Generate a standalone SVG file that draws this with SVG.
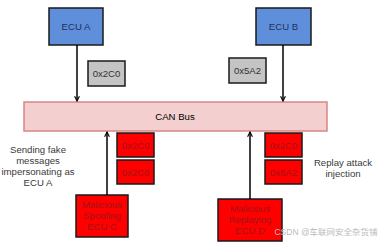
<svg xmlns="http://www.w3.org/2000/svg" width="381" height="248" viewBox="0 0 381 248">
<style>
text{font-family:"Liberation Sans",Arial,sans-serif;font-size:9.6px;text-anchor:middle}
.ecu{fill:#5F8FDB;stroke:#1a1a1a;stroke-width:1.5}
.ecut{fill:#1F2F5A}
.id{fill:#C4C4C4;stroke:#1a1a1a;stroke-width:1.5}
.idt{fill:#333}
.red{fill:#FF0000;stroke:#1a1a1a;stroke-width:1.5}
.redt{fill:#A01515}
.bus{fill:#F3CFCF;stroke:#D98585;stroke-width:1.5}
.conn{stroke:#000;stroke-width:1.5;fill:none}
.note{fill:#3a3a3a}
</style>
<defs>
<marker id="ah" viewBox="0 0 10 10" refX="9" refY="5" markerWidth="6" markerHeight="6" orient="auto" markerUnits="userSpaceOnUse">
<polyline points="1,1 9,5 1,9" fill="none" stroke="#000" stroke-width="1.8"/>
</marker>
</defs>
<g id="can-bus">
<rect class="bus" x="24" y="102" width="303" height="29"/>
<text x="175" y="119.5">CAN Bus</text>
</g>
<g id="ecu-a">
<rect class="ecu" x="49" y="8" width="54" height="37"/>
<text class="ecut" x="76" y="29.5">ECU A</text>
</g>
<g id="ecu-b">
<rect class="ecu" x="256" y="8" width="55" height="37"/>
<text class="ecut" x="283.5" y="29.5">ECU B</text>
</g>
<g id="msg-a">
<rect class="id" x="88" y="61" width="37" height="25"/>
<text class="idt" x="106.5" y="77">0x2C0</text>
</g>
<g id="msg-b">
<rect class="id" x="229" y="58" width="37" height="25"/>
<text class="idt" x="247.5" y="74">0x5A2</text>
</g>
<g id="ecu-c">
<rect class="red" x="76" y="195" width="52" height="42"/>
<text class="redt" x="102" y="207.5">Malicious</text>
<text class="redt" x="102" y="218.5">Spoofing</text>
<text class="redt" x="102" y="229.5">ECU C</text>
</g>
<g id="ecu-d">
<rect class="red" x="218" y="199" width="64" height="42"/>
<text class="redt" x="250" y="211.5">Malicious</text>
<text class="redt" x="250" y="222.5">Replaying</text>
<text class="redt" x="250" y="233.5">ECU D</text>
</g>
<g id="spoof-msg-1">
<rect class="red" x="117" y="133" width="37" height="24"/>
<text class="redt" x="135.5" y="148.5">0x2C0</text>
</g>
<g id="spoof-msg-2">
<rect class="red" x="117" y="160" width="37" height="24"/>
<text class="redt" x="135.5" y="175.5">0x2C0</text>
</g>
<g id="replay-msg-1">
<rect class="red" x="265" y="133" width="37" height="24"/>
<text class="redt" x="283.5" y="148.5">0x2C0</text>
</g>
<g id="replay-msg-2">
<rect class="red" x="265" y="160" width="37" height="24"/>
<text class="redt" x="283.5" y="175.5">0x5A2</text>
</g>
<g id="note-spoof">
<text class="note" x="38" y="152.5">Sending fake</text>
<text class="note" x="38" y="163.5">messages</text>
<text class="note" x="38" y="174.5">impersonating as</text>
<text class="note" x="38" y="185.5">ECU A</text>
</g>
<g id="note-replay">
<text class="note" x="343" y="165.5">Replay attack</text>
<text class="note" x="343" y="176.5">injection</text>
</g>
<g id="connectors">
<line class="conn" x1="77" y1="45" x2="77" y2="101" marker-end="url(#ah)"/>
<line class="conn" x1="283" y1="45" x2="283" y2="101" marker-end="url(#ah)"/>
<line class="conn" x1="107" y1="195" x2="107" y2="132" marker-end="url(#ah)"/>
<line class="conn" x1="250" y1="199" x2="250" y2="132" marker-end="url(#ah)"/>
</g>
<text x="326" y="235" style="font-size:8.5px;fill:#BBBBBB;font-family:'Liberation Sans','Noto Sans CJK SC',sans-serif">CSDN @车联网安全杂货铺</text>
</svg>
